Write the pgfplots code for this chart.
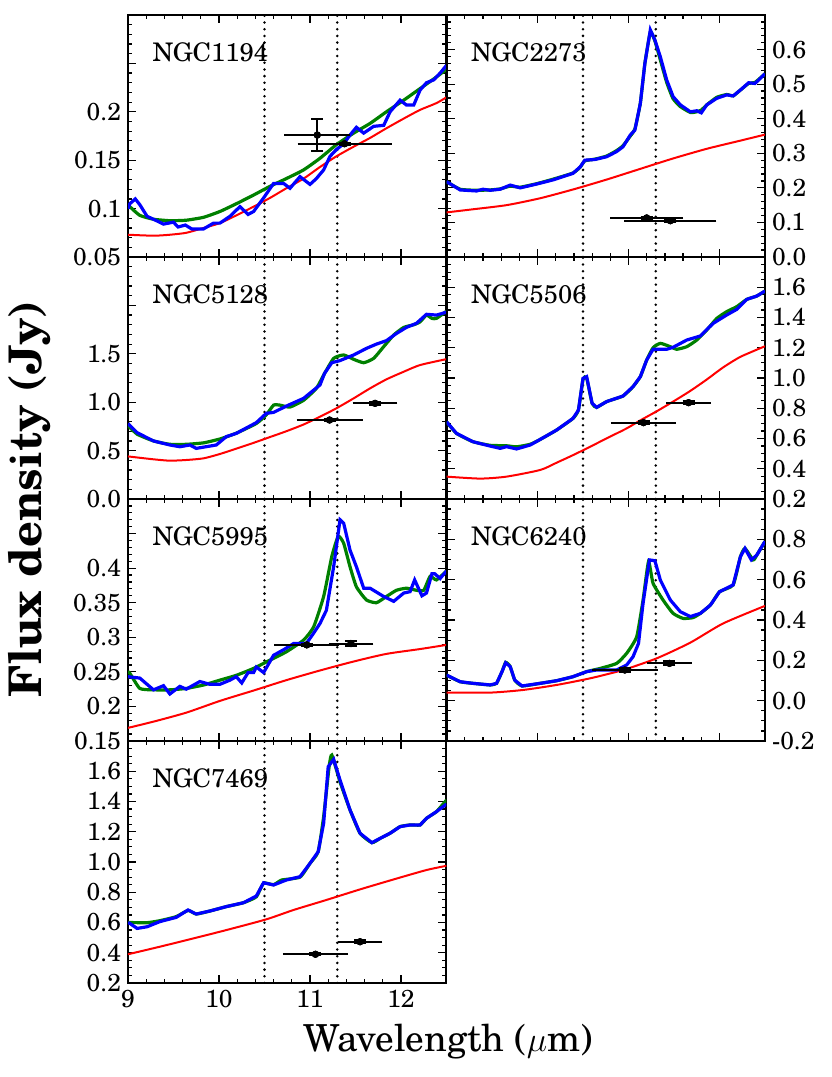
\documentclass[border=0pt]{standalone}
\usepackage{fontspec}
\setmainfont{TeX Gyre Schola}
\usepackage{pgfplots}
\pgfplotsset{compat=1.18}
\definecolor{mgreen}{RGB}{0,128,0}
\pgfplotsset{
 panel/.style={
  scale only axis, width=159.25pt, height=121pt, anchor=north west,
  xmin=9, xmax=12.5, xtick={9,10,11,12}, minor x tick num=4, xticklabels={},
  tick align=inside, major tick length=4pt, minor tick length=2pt,
  every tick/.style={black, line width=0.6pt},
  axis line style={line width=1pt},
  ticklabel style={font=\fontsize{12.3}{14}\selectfont},
  clip=true,
 },
 rightpanel/.style={panel, yticklabel pos=right},
 gline/.style={mgreen, line width=1.6pt, smooth, tension=0.3},
 bline/.style={blue, line width=1.6pt},
 rline/.style={red, line width=1pt, smooth, tension=0.4},
 vline/.style={black, line width=1.4pt, line cap=round, dash pattern=on 0pt off 3.35pt},
 xebar/.style={black, only marks, mark=*, mark size=1.6pt,
   error bars/.cd, x dir=both, x explicit,
   error bar style={line width=1pt, black},
   error mark options={black, mark size=3pt, line width=1pt}},
 yebar/.style={black, only marks, mark=*, mark size=1.6pt,
   error bars/.cd, y dir=both, y explicit, error mark=-,
   error bar style={line width=1pt, black},
   error mark options={rotate=90, black, mark size=3pt, line width=1pt}},
}
\newcommand{\gal}[1]{\node[anchor=west, font=\fontsize{12.8}{15}\selectfont] at (rel axis cs:0.055,0.845) {#1};}
\newcommand{\pts}[1]{\addplot[xebar] coordinates {#1};\addplot[yebar] coordinates {#1};}
\begin{document}
\begin{tikzpicture}
\path[use as bounding box] (0,0) rectangle (415.5pt,-538.5pt);
% Panel 1
\begin{axis}[panel, at={(64pt,-7.5pt)}, ymin=0.05, ymax=0.3,
  ytick={0.05,0.1,0.15,0.2,0.25,0.3}, yticklabels={0.05,0.1,0.15,0.2,{},{}}, minor y tick num=4]
\addplot[vline] coordinates {(10.5,0.05) (10.5,0.3)};
\addplot[vline] coordinates {(11.3,0.05) (11.3,0.3)};
\addplot[gline] coordinates {(9.0,0.104) (9.02,0.102) (9.13,0.093) (9.28,0.089) (9.46,0.0875) (9.64,0.088) (9.83,0.091) (10.01,0.097) (10.19,0.105) (10.38,0.114) (10.56,0.123) (10.74,0.131) (10.93,0.140) (11.11,0.152) (11.29,0.166) (11.48,0.178) (11.66,0.188) (11.84,0.200) (12.03,0.212) (12.21,0.224) (12.39,0.236) (12.5,0.244)};
\addplot[rline] coordinates {(9.0,0.073) (9.28,0.072) (9.46,0.073) (9.64,0.075) (9.83,0.080) (10.01,0.085) (10.19,0.093) (10.38,0.102) (10.56,0.111) (10.74,0.121) (10.93,0.131) (11.11,0.143) (11.29,0.154) (11.48,0.164) (11.66,0.173) (11.84,0.183) (12.03,0.193) (12.21,0.202) (12.39,0.209) (12.5,0.215)};
\addplot[bline] coordinates {(9.0,0.100) (9.02,0.105) (9.08,0.110) (9.13,0.104) (9.21,0.092) (9.28,0.089) (9.39,0.084) (9.50,0.086) (9.55,0.081) (9.63,0.083) (9.70,0.079) (9.83,0.079) (9.94,0.085) (10.01,0.085) (10.12,0.092) (10.23,0.102) (10.32,0.094) (10.38,0.097) (10.49,0.111) (10.60,0.126) (10.71,0.126) (10.78,0.121) (10.89,0.133) (11.00,0.125) (11.07,0.131) (11.15,0.140) (11.22,0.154) (11.29,0.161) (11.37,0.167) (11.44,0.176) (11.51,0.184) (11.59,0.178) (11.70,0.185) (11.81,0.186) (11.88,0.200) (11.99,0.212) (12.06,0.207) (12.14,0.207) (12.21,0.2225) (12.28,0.230) (12.36,0.233) (12.43,0.240) (12.5,0.248)};
\pts{(11.08,0.176) +- (0.295,0.017) (11.38,0.167) +- (0.45,0.001)}
\gal{NGC1194}
\end{axis}
% Panel 2
\begin{axis}[rightpanel, at={(223.25pt,-7.5pt)}, ymin=0, ymax=0.7,
  ytick={0,0.1,0.2,0.3,0.4,0.5,0.6,0.7}, yticklabels={0.0,0.1,0.2,0.3,0.4,0.5,0.6,{}}, minor y tick num=4]
\addplot[vline] coordinates {(10.5,0) (10.5,0.7)};
\addplot[vline] coordinates {(11.3,0) (11.3,0.7)};
\addplot[gline] coordinates {(9.0,0.218) (9.15,0.196) (9.33,0.193) (9.48,0.194) (9.59,0.197) (9.70,0.205) (9.81,0.202) (9.99,0.212) (10.17,0.225) (10.39,0.243) (10.47,0.260) (10.52,0.278) (10.63,0.283) (10.76,0.292) (10.87,0.308) (10.94,0.322) (11.02,0.350) (11.07,0.370) (11.13,0.445) (11.18,0.560) (11.24,0.650) (11.29,0.625) (11.35,0.570) (11.42,0.505) (11.49,0.458) (11.57,0.435) (11.68,0.418) (11.75,0.420) (11.80,0.425) (11.86,0.440) (11.97,0.462) (12.08,0.470) (12.15,0.466) (12.23,0.483) (12.32,0.502) (12.39,0.505) (12.5,0.530)};
\addplot[rline] coordinates {(9.0,0.129) (9.29,0.138) (9.66,0.150) (10.03,0.170) (10.40,0.196) (10.76,0.224) (11.13,0.255) (11.49,0.285) (11.86,0.313) (12.22,0.336) (12.5,0.354)};
\addplot[bline] coordinates {(9.0,0.218) (9.15,0.194) (9.33,0.191) (9.40,0.196) (9.48,0.193) (9.59,0.196) (9.70,0.208) (9.81,0.200) (9.99,0.211) (10.17,0.223) (10.39,0.242) (10.47,0.261) (10.52,0.280) (10.63,0.282) (10.76,0.290) (10.87,0.305) (10.94,0.319) (11.02,0.353) (11.07,0.367) (11.13,0.444) (11.18,0.560) (11.24,0.657) (11.29,0.628) (11.35,0.579) (11.42,0.512) (11.49,0.464) (11.57,0.440) (11.68,0.420) (11.75,0.423) (11.80,0.417) (11.86,0.440) (11.97,0.459) (12.08,0.469) (12.15,0.466) (12.23,0.483) (12.32,0.504) (12.39,0.502) (12.5,0.530)};
\pts{(11.2,0.113) +- (0.335,0.004) (11.46,0.105) +- (0.44,0.004)}
\gal{NGC2273}
\end{axis}
% Panel 3
\begin{axis}[panel, at={(64pt,-128.5pt)}, ymin=0, ymax=2.5,
  ytick={0,0.5,1,1.5,2,2.5}, yticklabels={0.0,0.5,1.0,1.5,{},{}}, minor y tick num=4]
\addplot[vline] coordinates {(10.5,0) (10.5,2.5)};
\addplot[vline] coordinates {(11.3,0) (11.3,2.5)};
\addplot[gline] coordinates {(9.0,0.76) (9.10,0.67) (9.28,0.60) (9.46,0.565) (9.64,0.565) (9.83,0.58) (10.01,0.62) (10.19,0.68) (10.41,0.78) (10.52,0.87) (10.60,0.97) (10.67,0.97) (10.78,0.95) (10.93,1.02) (11.07,1.143) (11.15,1.28) (11.26,1.453) (11.37,1.488) (11.48,1.443) (11.59,1.408) (11.70,1.453) (11.81,1.574) (11.92,1.694) (12.03,1.773) (12.14,1.80) (12.21,1.83) (12.28,1.90) (12.34,1.866) (12.39,1.866) (12.5,1.94)};
\addplot[rline] coordinates {(9.0,0.44) (9.28,0.41) (9.46,0.396) (9.64,0.403) (9.83,0.42) (10.01,0.465) (10.19,0.52) (10.38,0.58) (10.56,0.64) (10.74,0.70) (10.93,0.77) (11.11,0.85) (11.29,0.937) (11.48,1.04) (11.66,1.143) (11.84,1.236) (12.03,1.315) (12.21,1.384) (12.5,1.445)};
\addplot[bline] coordinates {(9.0,0.78) (9.10,0.685) (9.28,0.60) (9.46,0.558) (9.57,0.54) (9.68,0.558) (9.75,0.523) (9.97,0.558) (10.08,0.644) (10.19,0.678) (10.41,0.789) (10.52,0.885) (10.60,0.895) (10.74,0.96) (10.93,1.04) (11.11,1.178) (11.16,1.298) (11.24,1.408) (11.33,1.43) (11.48,1.488) (11.62,1.556) (11.73,1.60) (11.84,1.636) (11.95,1.71) (12.06,1.773) (12.17,1.815) (12.28,1.908) (12.39,1.90) (12.5,1.93)};
\pts{(11.215,0.816) +- (0.297,0.012) (11.715,0.988) +- (0.18,0.015)}
\gal{NGC5128}
\end{axis}
% Panel 4
\begin{axis}[rightpanel, at={(223.25pt,-128.5pt)}, ymin=0.2, ymax=1.8,
  ytick={0.2,0.4,0.6,0.8,1.0,1.2,1.4,1.6,1.8}, yticklabels={0.2,0.4,0.6,0.8,1.0,1.2,1.4,1.6,{}}, minor y tick num=3]
\addplot[vline] coordinates {(10.5,0.2) (10.5,1.8)};
\addplot[vline] coordinates {(11.3,0.2) (11.3,1.8)};
\addplot[gline] coordinates {(9.0,0.711) (9.11,0.634) (9.29,0.579) (9.48,0.555) (9.66,0.552) (9.77,0.545) (9.92,0.562) (10.03,0.594) (10.21,0.656) (10.39,0.733) (10.45,0.79) (10.50,0.99) (10.54,1.0) (10.60,0.833) (10.65,0.806) (10.76,0.844) (10.94,0.881) (11.05,0.943) (11.13,1.009) (11.20,1.119) (11.27,1.2) (11.35,1.229) (11.46,1.207) (11.53,1.19) (11.64,1.207) (11.75,1.251) (11.86,1.317) (11.97,1.394) (12.08,1.439) (12.19,1.472) (12.30,1.52) (12.41,1.542) (12.5,1.575)};
\addplot[rline] coordinates {(9.0,0.348) (9.37,0.335) (9.66,0.348) (10.03,0.392) (10.21,0.44) (10.39,0.49) (10.56,0.54) (10.76,0.601) (10.98,0.667) (11.13,0.72) (11.31,0.78) (11.49,0.844) (11.68,0.915) (11.86,0.99) (12.04,1.07) (12.23,1.14) (12.5,1.21)};
\addplot[bline] coordinates {(9.0,0.711) (9.11,0.634) (9.29,0.579) (9.48,0.55) (9.59,0.535) (9.66,0.546) (9.77,0.531) (9.92,0.557) (10.03,0.594) (10.21,0.656) (10.39,0.733) (10.45,0.788) (10.50,0.998) (10.54,1.009) (10.60,0.833) (10.65,0.806) (10.76,0.844) (10.94,0.881) (11.05,0.943) (11.13,1.009) (11.20,1.119) (11.27,1.19) (11.42,1.19) (11.49,1.203) (11.64,1.251) (11.79,1.278) (11.93,1.361) (12.08,1.417) (12.19,1.454) (12.30,1.52) (12.41,1.542) (12.5,1.575)};
\pts{(11.165,0.705) +- (0.293,0.008) (11.66,0.837) +- (0.18,0.01)}
\gal{NGC5506}
\end{axis}
% Panel 5
\begin{axis}[panel, at={(64pt,-249.5pt)}, ymin=0.15, ymax=0.5,
  ytick={0.15,0.2,0.25,0.3,0.35,0.4,0.45,0.5}, yticklabels={0.15,0.2,0.25,0.3,0.35,0.4,{},{}}, minor y tick num=4]
\addplot[vline] coordinates {(10.5,0.15) (10.5,0.5)};
\addplot[vline] coordinates {(11.3,0.15) (11.3,0.5)};
\addplot[gline] coordinates {(9.0,0.250) (9.02,0.248) (9.13,0.226) (9.28,0.224) (9.46,0.224) (9.64,0.226) (9.83,0.231) (10.01,0.238) (10.19,0.245) (10.38,0.255) (10.56,0.267) (10.74,0.279) (10.93,0.296) (11.04,0.315) (11.15,0.359) (11.24,0.417) (11.31,0.446) (11.37,0.436) (11.44,0.402) (11.51,0.373) (11.62,0.354) (11.73,0.350) (11.84,0.359) (11.95,0.368) (12.06,0.371) (12.17,0.368) (12.25,0.368) (12.32,0.388) (12.39,0.383) (12.5,0.396)};
\addplot[rline] coordinates {(9.0,0.169) (9.28,0.178) (9.64,0.191) (10.01,0.208) (10.38,0.223) (10.74,0.238) (11.11,0.252) (11.48,0.265) (11.84,0.276) (12.21,0.283) (12.5,0.289)};
\addplot[bline] coordinates {(9.0,0.243) (9.13,0.241) (9.28,0.224) (9.39,0.230) (9.46,0.218) (9.57,0.229) (9.64,0.225) (9.79,0.236) (9.90,0.232) (10.01,0.232) (10.12,0.238) (10.19,0.243) (10.25,0.234) (10.32,0.249) (10.38,0.249) (10.41,0.257) (10.49,0.249) (10.60,0.274) (10.71,0.282) (10.82,0.291) (10.96,0.291) (11.04,0.306) (11.11,0.320) (11.18,0.339) (11.26,0.402) (11.33,0.470) (11.37,0.465) (11.44,0.426) (11.51,0.402) (11.59,0.371) (11.66,0.371) (11.81,0.359) (11.92,0.352) (12.03,0.364) (12.10,0.366) (12.15,0.383) (12.23,0.360) (12.28,0.364) (12.34,0.392) (12.37,0.392) (12.43,0.385) (12.5,0.396)};
\pts{(10.965,0.289) +- (0.293,0.002) (11.45,0.291) +- (0.18,0.003)}
\gal{NGC5995}
\end{axis}
% Panel 6
\begin{axis}[rightpanel, at={(223.25pt,-249.5pt)}, ymin=-0.2, ymax=1.0,
  ytick={-0.2,0,0.2,0.4,0.6,0.8,1.0}, yticklabels={-0.2,0.0,0.2,0.4,0.6,0.8,{}}, minor y tick num=3]
\addplot[vline] coordinates {(10.5,-0.2) (10.5,1.0)};
\addplot[vline] coordinates {(11.3,-0.2) (11.3,1.0)};
\addplot[gline] coordinates {(9.0,0.127) (9.15,0.094) (9.29,0.086) (9.48,0.078) (9.55,0.086) (9.61,0.144) (9.65,0.19) (9.70,0.169) (9.75,0.102) (9.83,0.073) (10.03,0.086) (10.21,0.099) (10.39,0.119) (10.54,0.144) (10.69,0.160) (10.87,0.185) (10.98,0.235) (11.09,0.317) (11.16,0.499) (11.22,0.689) (11.27,0.582) (11.38,0.499) (11.49,0.433) (11.60,0.408) (11.71,0.412) (11.79,0.433) (11.90,0.474) (12.00,0.540) (12.15,0.574) (12.23,0.714) (12.28,0.755) (12.37,0.698) (12.41,0.722) (12.5,0.790)};
\addplot[rline] coordinates {(9.0,0.040) (9.48,0.040) (9.84,0.053) (10.21,0.078) (10.58,0.111) (10.94,0.152) (11.31,0.210) (11.68,0.288) (12.04,0.383) (12.5,0.470)};
\addplot[bline] coordinates {(9.0,0.127) (9.15,0.094) (9.29,0.086) (9.48,0.078) (9.55,0.086) (9.61,0.144) (9.65,0.188) (9.70,0.169) (9.75,0.102) (9.83,0.073) (10.03,0.086) (10.21,0.099) (10.39,0.119) (10.54,0.144) (10.65,0.152) (10.87,0.152) (10.98,0.177) (11.05,0.218) (11.11,0.284) (11.16,0.483) (11.23,0.698) (11.29,0.694) (11.35,0.598) (11.46,0.499) (11.57,0.441) (11.68,0.417) (11.79,0.433) (11.90,0.474) (12.00,0.540) (12.15,0.574) (12.23,0.714) (12.28,0.755) (12.35,0.698) (12.41,0.722) (12.5,0.790)};
\pts{(10.96,0.152) +- (0.293,0.01) (11.45,0.185) +- (0.18,0.01)}
\gal{NGC6240}
\end{axis}
% Panel 7
\begin{axis}[panel, at={(64pt,-370.5pt)}, ymin=0.2, ymax=1.8,
  ytick={0.2,0.4,0.6,0.8,1.0,1.2,1.4,1.6,1.8}, yticklabels={0.2,0.4,0.6,0.8,1.0,1.2,1.4,1.6,{}}, minor y tick num=3,
  xticklabels={9,10,11,12}]
\addplot[vline] coordinates {(10.5,0.2) (10.5,1.8)};
\addplot[vline] coordinates {(11.3,0.2) (11.3,1.8)};
\addplot[gline] coordinates {(9.0,0.60) (9.21,0.599) (9.35,0.612) (9.53,0.639) (9.66,0.680) (9.75,0.656) (9.90,0.676) (10.08,0.705) (10.27,0.731) (10.41,0.770) (10.49,0.860) (10.60,0.850) (10.69,0.881) (10.89,0.900) (11.00,0.991) (11.09,1.068) (11.15,1.30) (11.21,1.63) (11.24,1.707) (11.33,1.53) (11.44,1.344) (11.55,1.19) (11.68,1.128) (11.77,1.156) (11.88,1.19) (11.99,1.234) (12.10,1.245) (12.21,1.245) (12.28,1.289) (12.39,1.333) (12.5,1.41)};
\addplot[rline] coordinates {(9.0,0.39) (9.35,0.44) (9.72,0.495) (10.08,0.55) (10.52,0.621) (10.82,0.683) (11.18,0.749) (11.55,0.819) (11.92,0.885) (12.28,0.947) (12.5,0.975)};
\addplot[bline] coordinates {(9.0,0.60) (9.02,0.594) (9.10,0.561) (9.21,0.572) (9.35,0.606) (9.53,0.634) (9.66,0.683) (9.75,0.656) (9.90,0.676) (10.08,0.705) (10.27,0.731) (10.41,0.775) (10.49,0.863) (10.60,0.848) (10.74,0.881) (10.89,0.903) (11.00,0.991) (11.09,1.068) (11.15,1.256) (11.20,1.63) (11.26,1.679) (11.33,1.542) (11.44,1.344) (11.55,1.19) (11.68,1.128) (11.77,1.156) (11.88,1.19) (11.99,1.234) (12.10,1.245) (12.21,1.245) (12.28,1.289) (12.39,1.333) (12.5,1.383)};
\pts{(11.06,0.39) +- (0.293,0.008) (11.55,0.473) +- (0.18,0.01)}
\gal{NGC7469}
\end{axis}
\node[font=\fontsize{18.6}{22}\selectfont] at (224pt,-521pt) {Wavelength ($\mu$m)};
\node[rotate=90, font=\fontsize{22.5}{26}\selectfont\bfseries] at (15pt,-249.5pt) {Flux density (Jy)};
\end{tikzpicture}
\end{document}
